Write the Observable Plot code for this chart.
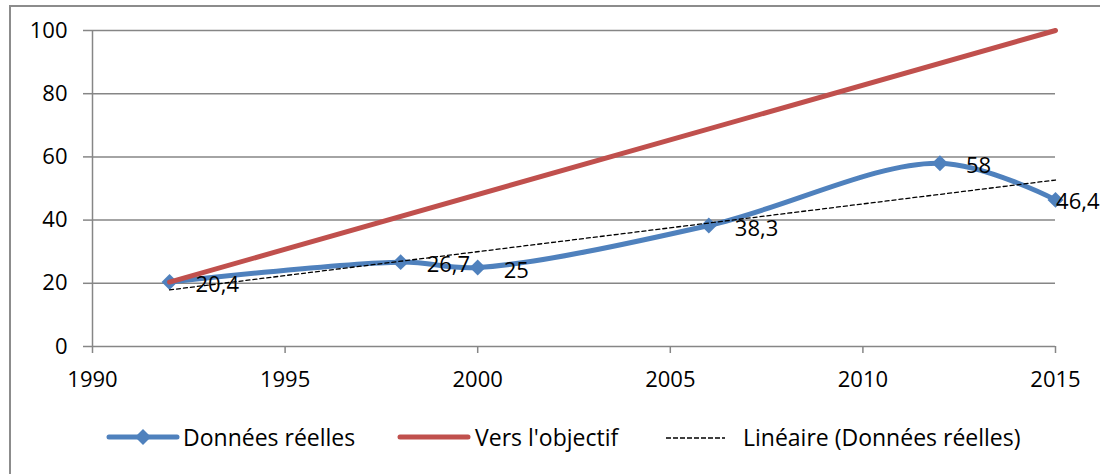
<!DOCTYPE html>
<html>
<head>
<meta charset="utf-8">
<script src="https://cdn.jsdelivr.net/npm/d3@7"></script>
<script src="https://cdn.jsdelivr.net/npm/@observablehq/plot@0.6"></script>
<style>
  html, body { margin: 0; padding: 0; background: #fff; }
  #wrap { position: relative; width: 1100px; height: 474px; overflow: hidden; font-family: "Open Sans", "Liberation Sans", sans-serif; }
  #frame { position: absolute; left: 9px; top: 5px; width: 1200px; height: 600px; border: 2px solid #8c8c8c; box-sizing: border-box; }
  #chart { position: absolute; left: 0; top: 0; }
  .sw { position: absolute; top: 424px; }
  .lt { position: absolute; top: 421px; line-height: 32px; font-size: 23px; color: #000; white-space: nowrap; }
</style>
</head>
<body>
<div id="wrap">
  <div id="frame"></div>
  <div id="chart"></div>
  <div id="legend"></div>
</div>
<script>
const years = [1992, 1998, 2000, 2006, 2012, 2015];
const reelles = [20.4, 26.7, 25, 38.3, 58, 46.4];
const objectifYears = [1992, 2015];
const objectifValues = [20.4, 100];
const xTicks = [1990, 1995, 2000, 2005, 2010, 2015];
const yTicks = [0, 20, 40, 60, 80, 100];
const seriesNames = ["Données réelles", "Vers l'objectif", "Linéaire (Données réelles)"];
const seriesColors = ["#4f81bd", "#c0504d", "#000000"];

const reelData = years.map((year, i) => ({year, value: reelles[i]}));
const objData = objectifYears.map((year, i) => ({year, value: objectifValues[i]}));
const fmt = v => v.toLocaleString("fr-FR");
const lastYear = years[years.length - 1];

const plot = Plot.plot({
  width: 1100,
  height: 400,
  marginLeft: 92,
  marginRight: 45,
  marginTop: 30,
  marginBottom: 54,
  style: {fontFamily: "'Open Sans', 'Liberation Sans', sans-serif", fontSize: "22px", color: "black", background: "transparent", overflow: "visible"},
  x: {domain: [1990, 2015]},
  y: {domain: [0, 100]},
  marks: [
    Plot.gridY(yTicks, {stroke: "#868686", strokeOpacity: 1, strokeWidth: 1.5}),
    Plot.ruleX([1990], {stroke: "#868686", strokeWidth: 1.5}),
    Plot.axisY(yTicks, {tickSize: 9, tickPadding: 16, stroke: "#868686", strokeWidth: 1.5, fill: "black", fontSize: 22, tickFormat: d => String(d), label: null}),
    Plot.axisX(xTicks, {tickSize: 7, tickPadding: 18, stroke: "#868686", strokeWidth: 1.5, fill: "black", fontSize: 22, tickFormat: d => String(d), label: null}),
    Plot.line(reelData, {x: "year", y: "value", stroke: seriesColors[0], strokeWidth: 5, curve: "catmull-rom"}),
    Plot.dot(reelData, {x: "year", y: "value", symbol: "diamond2", r: 7.2, fill: seriesColors[0], stroke: "none"}),
    Plot.line(objData, {x: "year", y: "value", stroke: seriesColors[1], strokeWidth: 5}),
    Plot.linearRegressionY(reelData, {x: "year", y: "value", stroke: seriesColors[2], strokeWidth: 1.3, strokeDasharray: "4,3", ci: 0}),
    Plot.text(reelData.filter(d => d.year !== lastYear), {x: "year", y: "value", text: d => fmt(d.value), textAnchor: "start", dx: 26, dy: 3, fill: "black", fontSize: 22}),
    Plot.text(reelData.filter(d => d.year === lastYear), {x: "year", y: "value", text: d => fmt(d.value), textAnchor: "end", dx: 44, dy: 2, fill: "black", fontSize: 22})
  ]
});
document.getElementById("chart").appendChild(plot);

// Legend
const legend = document.getElementById("legend");
const swPos = [106, 397, 664];
const textPos = [183, 475, 743];
seriesNames.forEach((name, i) => {
  let sw;
  if (i === 0) {
    sw = `<svg width="74" height="26"><line x1="3" x2="71" y1="13" y2="13" stroke="${seriesColors[0]}" stroke-width="5" stroke-linecap="round"/><path d="M37,5 L45,13 L37,21 L29,13 Z" fill="${seriesColors[0]}"/></svg>`;
  } else if (i === 1) {
    sw = `<svg width="74" height="26"><line x1="3" x2="71" y1="13" y2="13" stroke="${seriesColors[1]}" stroke-width="5" stroke-linecap="round"/></svg>`;
  } else {
    sw = `<svg width="64" height="26"><line x1="2" x2="61" y1="14" y2="14" stroke="${seriesColors[2]}" stroke-width="1.3" stroke-dasharray="5,2"/></svg>`;
  }
  const s = document.createElement("div");
  s.className = "sw";
  s.style.left = swPos[i] + "px";
  s.innerHTML = sw;
  legend.appendChild(s);
  const t = document.createElement("div");
  t.className = "lt";
  t.style.left = textPos[i] + "px";
  t.textContent = name;
  legend.appendChild(t);
});
</script>
</body>
</html>
